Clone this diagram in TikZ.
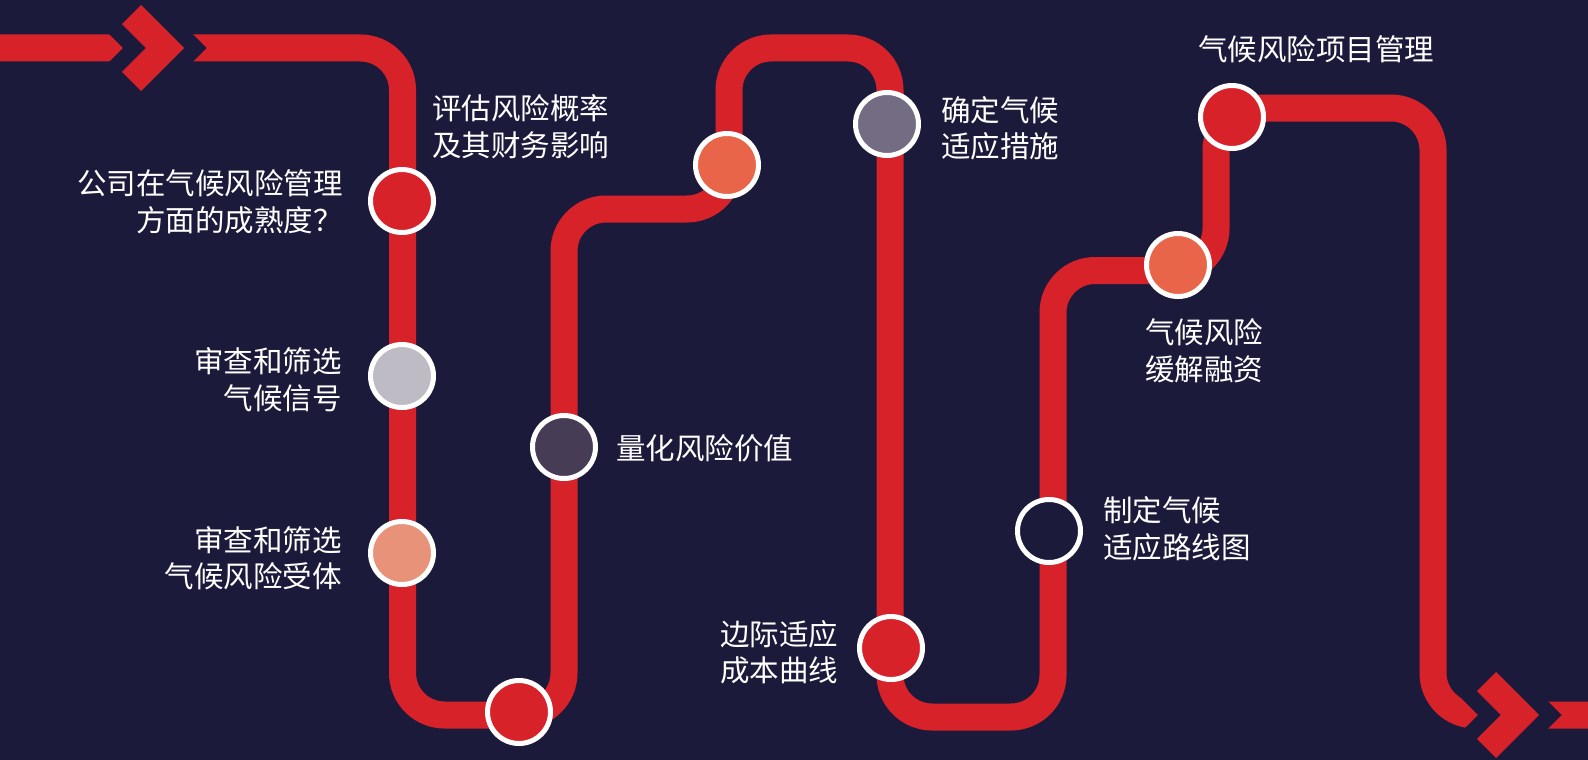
\documentclass[tikz,border=0pt]{standalone}
\usepackage{fontspec}
\setmainfont{Noto Sans CJK SC}
\definecolor{bg}{HTML}{1C1A3B}
\definecolor{trackred}{HTML}{D8222A}
\definecolor{cgrey}{HTML}{BFBBC5}
\definecolor{csalmon}{HTML}{E8927A}
\definecolor{cdark}{HTML}{463C56}
\definecolor{corange}{HTML}{E8654A}
\definecolor{cmauve}{HTML}{736C82}
\begin{document}
\begin{tikzpicture}[x=1pt,y=-1pt,
  track/.style={draw=trackred, line width=27pt, rounded corners=42pt},
  gapline/.style={draw=bg, line width=32pt, line join=miter, miter limit=10},
  dot/.style={circle, draw=white, line width=5pt, minimum size=63pt, inner sep=0pt},
  lbl/.style={text=white, inner sep=0pt, font=\fontsize{29.5}{36.5}\selectfont},
  lblr/.style={lbl, align=right, anchor=east},
  lbll/.style={lbl, align=left, anchor=west},
  chevronpic/.pic={
    \path[gapline] (-43,-43) -- (0,0) -- (-43,43) -- (-62.1,23.9) -- (-38.2,0) -- (-62.1,-23.9) -- cycle;
    \fill[trackred] (-43,-43) -- (0,0) -- (-43,43) -- (-62.1,23.9) -- (-38.2,0) -- (-62.1,-23.9) -- cycle;
  }]
\fill[bg] (0,0) rectangle (1588,760);
\useasboundingbox (0,0) rectangle (1588,760);

% track
\draw[track] (0,48) -- (402.5,48) -- (402.5,715) -- (564,715) -- (564,209)
  -- (729,209) -- (729,48) -- (890,48) -- (890,717) -- (1053,717)
  -- (1053,270.5) -- (1216,270.5) -- (1216,108) -- (1433,108)
  -- (1433,715) -- (1588,715);

% chevrons
\pic at (184,48) {chevronpic};
\pic at (1539,715) {chevronpic};

% stations
\node[dot, fill=trackred] (s1) at (402,201) {};
\node[dot, fill=cgrey] (s2) at (402,376) {};
\node[dot, fill=csalmon] (s3) at (402,553) {};
\node[dot, fill=trackred] (s4) at (519,712) {};
\node[dot, fill=cdark] (s5) at (564,447) {};
\node[dot, fill=corange] (s6) at (727,165) {};
\node[dot, fill=cmauve] (s7) at (887,124) {};
\node[dot, fill=trackred] (s8) at (891,648) {};
\node[dot, fill=bg] (s9) at (1049,531) {};
\node[dot, fill=corange] (s10) at (1178,265) {};
\node[dot, fill=trackred] (s11) at (1232,117) {};

% labels
\node[lblr] (l1) at (343,202) {公司在气候风险管理\\方面的成熟度？};
\node[lbll] (l2) at (432,126.5) {评估风险概率\\及其财务影响};
\node[lblr] (l3) at (342,379.5) {审查和筛选\\气候信号};
\node[lblr] (l4) at (342,558) {审查和筛选\\气候风险受体};
\node[lbll] (l5) at (616,448) {量化风险价值};
\node[lbll] (l6) at (720,652.5) {边际适应\\成本曲线};
\node[lbll] (l7) at (941,128.5) {确定气候\\适应措施};
\node[lbll] (l8) at (1198,49) {气候风险项目管理};
\node[lbll] (l9) at (1145,350.5) {气候风险\\缓解融资};
\node[lbll] (l10) at (1103,529) {制定气候\\适应路线图};
\end{tikzpicture}
\end{document}
